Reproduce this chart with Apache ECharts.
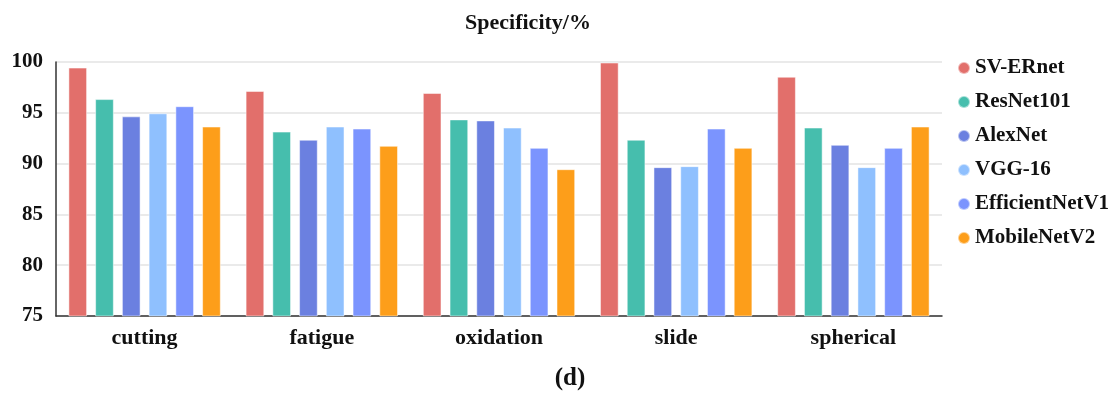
<!DOCTYPE html>
<html><head><meta charset="utf-8">
<script src="https://cdn.jsdelivr.net/npm/echarts@6/dist/echarts.min.js"></script>
<style>html,body{margin:0;padding:0;background:#fff}#c{width:1119px;height:396px}</style>
</head><body><div id="c"></div>
<script>
const categories = ['cutting','fatigue','oxidation','slide','spherical'];
const seriesNames = ['SV-ERnet','ResNet101','AlexNet','VGG-16','EfficientNetV1','MobileNetV2'];
const svERnet = [99.45, 97.15, 96.95, 99.95, 98.55];
const resNet101 = [96.35, 93.15, 94.35, 92.35, 93.55];
const alexNet = [94.65, 92.35, 94.25, 89.65, 91.85];
const vgg16 = [94.95, 93.65, 93.55, 89.75, 89.65];
const efficientNetV1 = [95.65, 93.45, 91.55, 93.45, 91.55];
const mobileNetV2 = [93.65, 91.75, 89.45, 91.55, 93.65];
const yTicks = [75, 80, 85, 90, 95, 100];
const colors = ['#e26f6b','#46bead','#6b80e0','#8fc0fe','#7b94fe','#fd9e1a'];
const allData = [svERnet, resNet101, alexNet, vgg16, efficientNetV1, mobileNetV2];
const FONT = '"Liberation Serif", "Times New Roman", serif';

const chart = echarts.init(document.getElementById('c'));
chart.setOption({
  animation: false,
  color: colors,
  title: [
    {text: 'Specificity/%', left: 523, top: 7, textAlign: 'center',
     textStyle: {fontFamily: FONT, fontWeight: 'bold', fontSize: 22, color: '#111'}},
    {text: '{p|(}{d|d}{p|)}', left: 565, top: 361, textAlign: 'center',
     textStyle: {rich: {
       p: {fontFamily: FONT, fontSize: 25, color: '#111'},
       d: {fontFamily: FONT, fontSize: 25, fontWeight: 'bold', color: '#111'}}}}
  ],
  legend: {
    orient: 'vertical', left: 952, top: 52,
    icon: 'circle', itemWidth: 12, itemHeight: 12, itemGap: 12, itemTextGap: 11,
    data: seriesNames,
    textStyle: {fontFamily: FONT, fontWeight: 'bold', fontSize: 21, color: '#111', lineHeight: 22}
  },
  grid: {left: 56, right: 177, top: 62, bottom: 80, containLabel: false},
  xAxis: {
    type: 'category', data: categories,
    axisLine: {lineStyle: {color: '#333', width: 1.5}},
    axisTick: {show: false},
    axisLabel: {fontFamily: FONT, fontWeight: 'bold', fontSize: 22, color: '#111', margin: 11}
  },
  yAxis: {
    type: 'value', min: yTicks[0], max: yTicks[yTicks.length-1], interval: 5,
    axisLine: {show: true, lineStyle: {color: '#333', width: 1.5}},
    axisTick: {show: false},
    splitLine: {lineStyle: {color: '#e3e3e3', width: 1.5}},
    axisLabel: {fontFamily: FONT, fontWeight: 'bold', fontSize: 21, color: '#111', margin: 13}
  },
  series: seriesNames.map((n, i) => ({
    name: n, type: 'bar', data: allData[i],
    barWidth: 18.7, barGap: '43%',
    itemStyle: {color: colors[i], borderColor: 'rgba(255,255,255,0.5)', borderWidth: 1}
  }))
});
</script></body></html>
